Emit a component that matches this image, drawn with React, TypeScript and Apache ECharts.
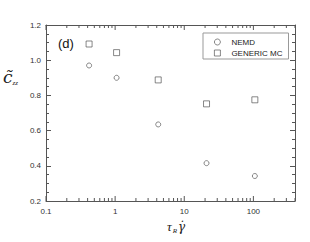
import React, { useEffect, useRef } from "react";
import * as echarts from "echarts";

const xNEMD = [0.42, 1.05, 4.2, 21, 105];
const yNEMD = [0.97, 0.9, 0.635, 0.415, 0.342];
const xMC = [0.42, 1.05, 4.2, 21, 105];
const yMC = [1.092, 1.043, 0.888, 0.752, 0.775];
const seriesNames = ["NEMD", "GENERIC MC"];
const xMajorTicks = [0.1, 1, 10, 100];
const xMinorMultipliers = [2, 3, 4, 5, 6, 7, 8, 9];
const X_MIN = 0.1;
const X_MAX = 400;
const Y_MIN = 0.2;
const Y_MAX = 1.2;
const Y_STEP = 0.2;

const AXIS = "#555";
const MARK = "#444";

export default function App() {
  const ref = useRef<HTMLDivElement>(null);
  useEffect(() => {
    document.body.style.margin = "0";
    if (!ref.current) return;
    const chart = echarts.init(ref.current, undefined, { renderer: "svg" });

    const tickData: number[][] = [];
    xMajorTicks.forEach((d) => {
      tickData.push([d, 1]);
      xMinorMultipliers.forEach((m) => {
        const v = d * m;
        if (v <= X_MAX) tickData.push([v, 0]);
      });
    });

    const fmtX = (v: number) => {
      const l = Math.log10(v);
      if (Math.abs(l - Math.round(l)) > 1e-6) return "";
      return String(Number(v.toPrecision(3)));
    };

    const yAxisBase = {
      type: "value" as const,
      min: Y_MIN,
      max: Y_MAX,
      interval: Y_STEP,
      splitLine: { show: false },
      axisLine: { show: true, lineStyle: { color: AXIS, width: 1 } },
      axisTick: { show: true, inside: true, length: 5, lineStyle: { color: AXIS } },
      minorTick: { show: true, splitNumber: 4, length: 3, lineStyle: { color: AXIS } },
    };

    const serif = "Liberation Serif, DejaVu Serif, serif";

    chart.setOption({
      animation: false,
      grid: { left: 46, right: 15, top: 25, bottom: 41 },
      xAxis: [
        {
          type: "log",
          logBase: 10,
          min: X_MIN,
          max: X_MAX,
          position: "bottom",
          splitLine: { show: false },
          axisLine: { show: true, lineStyle: { color: AXIS, width: 1 } },
          axisTick: { show: false },
          minorTick: { show: false },
          axisLabel: {
            formatter: fmtX,
            fontSize: 8,
            color: "#333",
            fontFamily: "Liberation Sans, Arial, sans-serif",
            margin: 6,
            showMaxLabel: false,
          },
        },
        {
          type: "log",
          logBase: 10,
          min: X_MIN,
          max: X_MAX,
          position: "top",
          splitLine: { show: false },
          axisLine: { show: true, lineStyle: { color: AXIS, width: 1 } },
          axisTick: { show: false },
          axisLabel: { show: false },
        },
      ],
      yAxis: [
        {
          ...yAxisBase,
          position: "left",
          axisLabel: {
            formatter: (v: number) => v.toFixed(1),
            fontSize: 8,
            color: "#333",
            fontFamily: "Liberation Sans, Arial, sans-serif",
            margin: 5,
          },
        },
        {
          ...yAxisBase,
          position: "right",
          axisLabel: { show: false },
        },
      ],
      legend: {
        data: seriesNames,
        orient: "vertical",
        left: 203,
        top: 33,
        padding: [5, 6, 2, 11],
        itemGap: 3,
        itemWidth: 6,
        itemHeight: 6,
        borderColor: "#999",
        borderWidth: 1,
        backgroundColor: "#fff",
        itemStyle: { color: "rgba(0,0,0,0)", borderColor: MARK, borderWidth: 0.8 },
        textStyle: {
          fontSize: 8,
          color: "#222",
          fontFamily: "Liberation Sans, Arial, sans-serif",
          padding: [0, 0, 0, 6],
        },
      },
      series: [
        {
          name: seriesNames[0],
          type: "scatter",
          symbol: "circle",
          symbolSize: 5,
          data: xNEMD.map((x, i) => [x, yNEMD[i]]),
          itemStyle: { color: "rgba(0,0,0,0)", borderColor: MARK, borderWidth: 0.8 },
        },
        {
          name: seriesNames[1],
          type: "scatter",
          symbol: "rect",
          symbolSize: 6,
          data: xMC.map((x, i) => [x, yMC[i]]),
          itemStyle: { color: "rgba(0,0,0,0)", borderColor: MARK, borderWidth: 0.8 },
        },
        {
          name: "ticks",
          type: "custom",
          silent: true,
          clip: false,
          data: tickData,
          renderItem: (params: any, api: any) => {
            const v = api.value(0);
            const major = api.value(1) === 1;
            const len = major ? 5 : 3;
            const b = api.coord([v, Y_MIN]);
            const t = api.coord([v, Y_MAX]);
            const style = { stroke: AXIS, lineWidth: 1 };
            return {
              type: "group",
              children: [
                { type: "line", shape: { x1: b[0], y1: b[1], x2: b[0], y2: b[1] - len }, style },
                { type: "line", shape: { x1: t[0], y1: t[1], x2: t[0], y2: t[1] + len }, style },
              ],
            };
          },
        },
      ],
      graphic: [
        {
          type: "text",
          left: 58,
          top: 37,
          style: { text: "(d)", fontSize: 13, fill: "#111", fontFamily: "Liberation Sans, Arial, sans-serif" },
        },
        {
          type: "text",
          left: 3,
          top: 68,
          style: {
            text: "{c|c\u0303}{s|zz}",
            fill: "#222",
            rich: {
              c: { fontSize: 17, fontStyle: "italic", fontFamily: "DejaVu Serif, serif", fill: "#222", lineHeight: 20 },
              s: { fontSize: 7, fontStyle: "italic", fontFamily: serif, fill: "#222", padding: [12, 0, 0, 0] },
            },
          },
        },
        {
          type: "text",
          left: 167,
          top: 220,
          style: {
            text: "{t|τ}{s|R}{g|γ\u0307}",
            fill: "#222",
            rich: {
              t: { fontSize: 13, fontStyle: "italic", fontFamily: serif, fill: "#222", lineHeight: 16 },
              s: { fontSize: 7, fontStyle: "italic", fontFamily: serif, fill: "#222", padding: [9, 1, 0, 1] },
              g: { fontSize: 12, fontStyle: "italic", fontFamily: "DejaVu Serif, serif", fill: "#222" },
            },
          },
        },
      ],
    });
    return () => chart.dispose();
  }, []);
  return <div ref={ref} style={{ width: 310, height: 242 }} />;
}
